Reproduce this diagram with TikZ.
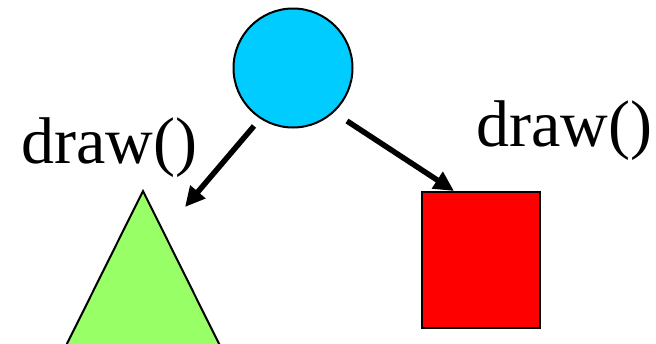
\documentclass[tikz,border=0pt]{standalone}
\usepackage{fontspec}
\setmainfont{Liberation Serif}
\usetikzlibrary{arrows.meta}
\begin{document}
\begin{tikzpicture}[x=1pt,y=-1pt,
  outline/.style={draw=black,line width=2pt},
  callarrow/.style={line width=5.5pt,-{Triangle[length=20pt,width=19pt]}},
  lbl/.style={font=\fontsize{66}{66}\selectfont,inner sep=0pt,anchor=base west}]
\useasboundingbox (0,0) rectangle (656,343);
\node[circle,outline,fill={rgb,255:red,0;green,204;blue,255},minimum size=119pt,inner sep=0pt] (circ) at (293,68) {};
\begin{scope}
\clip (0,0) rectangle (656,343);
\draw[outline,fill={rgb,255:red,153;green,255;blue,102},line join=miter] (143,191) -- (247,400) -- (39,400) -- cycle;
\end{scope}
\coordinate (tri) at (143,191);
\node[outline,fill=red,minimum width=118pt,minimum height=136pt,inner sep=0pt,anchor=north west] (rect) at (421,191) {};
\coordinate (la) at (254,126);
\coordinate (lt) at (185,207);
\coordinate (ra) at (347,121);
\coordinate (rt) at (454,191);
\draw[callarrow] (la) -- (lt);
\draw[callarrow] (ra) -- (rt);
\node[lbl] (ltext) at (21,163) {draw()};
\node[lbl] (rtext) at (476,146) {draw()};
\end{tikzpicture}
\end{document}
